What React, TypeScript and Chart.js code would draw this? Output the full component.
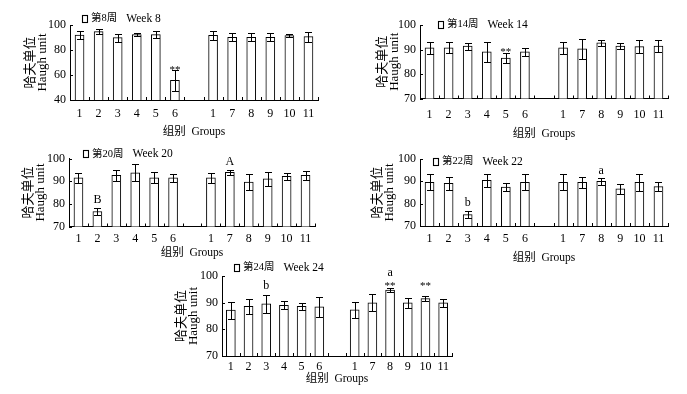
import React, { useEffect, useRef } from 'react';
import { Chart, registerables } from 'chart.js';

Chart.register(...registerables);

const SERIF = "'Liberation Serif', 'Noto Sans CJK SC', serif";

// ---------- data ----------
const groupLabels = ['1', '2', '3', '4', '5', '6', '', '1', '7', '8', '9', '10', '11'];

const week8Means = [92, 94.7, 89.9, 92.3, 92.3, 55.7, null, 91.8, 90.1, 90.1, 90.1, 91.5, 90.7];
const week8Errors = [3.5, 2.1, 3.2, 1.3, 2.9, 8.3, null, 3.8, 3.2, 3.2, 3.2, 1.3, 4];
const week8Ticks = [40, 60, 80, 100];
const week8Marks = [{ slot: 5, text: '**', value: 65.6 }];

const week14Means = [90.7, 90.7, 91.4, 89, 86.5, 89, null, 90.7, 90.3, 92.7, 91.4, 91.2, 91.4];
const week14Errors = [2.5, 2.2, 1.4, 3.9, 2.2, 1.7, null, 2.5, 4, 1.3, 1.3, 2.7, 2.5];
const week14Ticks = [70, 80, 90, 100];
const week14Marks = [{ slot: 4, text: '**', value: 89.8 }];

const week20Means = [91.5, 76.6, 92.6, 93.7, 91.5, 91.5, null, 91.5, 93.9, 89.6, 91, 92.1, 92.6];
const week20Errors = [2.2, 1.5, 2.5, 3.7, 2.5, 1.7, null, 2.2, 1.1, 3.6, 3, 1.6, 2.1];
const week20Ticks = [70, 80, 90, 100];
const week20Marks = [
  { slot: 1, text: 'B', value: 81.9 },
  { slot: 8, text: 'A', value: 98.4 },
];

const week22Means = [89.6, 89.1, 75.1, 90.4, 87.4, 89.6, null, 89.6, 89.6, 90, 86.6, 89.6, 87.6];
const week22Errors = [3.6, 2.9, 1.5, 3.1, 1.7, 3.6, null, 3.6, 2.5, 1.5, 2.1, 3.9, 2.1];
const week22Ticks = [70, 80, 90, 100];
const week22Marks = [
  { slot: 2, text: 'b', value: 80.2 },
  { slot: 9, text: 'a', value: 94.8 },
];

const week24Means = [87.2, 88.6, 89.6, 89, 88.6, 88.4, null, 87.3, 89.9, 94.7, 89.9, 91.5, 89.9];
const week24Errors = [3.2, 2.8, 3.3, 1.5, 1.3, 3.8, null, 3.1, 3.2, 0.8, 2, 0.9, 1.6];
const week24Ticks = [70, 80, 90, 100];
const week24Marks = [
  { slot: 2, text: 'b', value: 96.2 },
  { slot: 9, text: '**', value: 97.3 },
  { slot: 9, text: 'a', value: 101.2 },
  { slot: 11, text: '**', value: 97.3 },
];

const legendCN = ['第8周', '第14周', '第20周', '第22周', '第24周'];
const legendEN = ['Week 8', 'Week 14', 'Week 20', 'Week 22', 'Week 24'];
const xTitle = '组别  Groups';
const yTitle = ['哈夫单位', 'Haugh unit'];

// ---------- layout ----------
type Rect = { x: number; y: number; w: number; h: number };
type Area = { L: number; T: number; R: number; B: number };
type PanelCfg = {
  canvas: Rect;
  area: Area;
  yTitleX: number;
  tickLabelY: number;
  xTitleY: number;
  legend: { x: number; y: number };
  means: (number | null)[];
  errors: (number | null)[];
  ticks: number[];
  marks: { slot: number; text: string; value: number }[];
  cn: string;
  en: string;
};

const panels: PanelCfg[] = [
  {
    canvas: { x: 0, y: 0, w: 343, h: 145 },
    area: { L: 70, T: 25, R: 318, B: 100 },
    yTitleX: 31, tickLabelY: 114, xTitleY: 132,
    legend: { x: 82, y: 18 },
    means: week8Means, errors: week8Errors, ticks: week8Ticks, marks: week8Marks,
    cn: legendCN[0], en: legendEN[0],
  },
  {
    canvas: { x: 343, y: 0, w: 344, h: 145 },
    area: { L: 420, T: 25, R: 668, B: 98.5 },
    yTitleX: 383, tickLabelY: 115, xTitleY: 134,
    legend: { x: 438, y: 24 },
    means: week14Means, errors: week14Errors, ticks: week14Ticks, marks: week14Marks,
    cn: legendCN[1], en: legendEN[1],
  },
  {
    canvas: { x: 0, y: 145, w: 343, h: 120 },
    area: { L: 69, T: 158.5, R: 315, B: 226.5 },
    yTitleX: 29, tickLabelY: 239, xTitleY: 253,
    legend: { x: 83, y: 153.5 },
    means: week20Means, errors: week20Errors, ticks: week20Ticks, marks: week20Marks,
    cn: legendCN[2], en: legendEN[2],
  },
  {
    canvas: { x: 343, y: 145, w: 344, h: 125 },
    area: { L: 420, T: 159, R: 668, B: 226 },
    yTitleX: 378, tickLabelY: 239, xTitleY: 258,
    legend: { x: 433, y: 161 },
    means: week22Means, errors: week22Errors, ticks: week22Ticks, marks: week22Marks,
    cn: legendCN[3], en: legendEN[3],
  },
  {
    canvas: { x: 160, y: 255, w: 340, h: 139 },
    area: { L: 222, T: 276, R: 452, B: 356 },
    yTitleX: 182, tickLabelY: 367, xTitleY: 379,
    legend: { x: 234, y: 267 },
    means: week24Means, errors: week24Errors, ticks: week24Ticks, marks: week24Marks,
    cn: legendCN[4], en: legendEN[4],
  },
];

const Y_LH = 12; // 13px * 0.92
const XT_LH = 13.8; // 11.5px * 1.2
const TICK_LH = 14.4; // 12px * 1.2

function Panel({ cfg }: { cfg: PanelCfg }) {
  const ref = useRef<HTMLCanvasElement | null>(null);

  useEffect(() => {
    if (!ref.current) return;
    const { canvas: c, area: a } = cfg;
    const yLeft = cfg.yTitleX - Y_LH / 2;
    const yW = a.L - yLeft;
    const xH = cfg.xTitleY + XT_LH / 2 - a.B;
    const pad = {
      left: yLeft - c.x,
      top: a.T - c.y,
      right: c.x + c.w - a.R,
      bottom: c.y + c.h - (a.B + xH),
    };
    const tickPad = cfg.tickLabelY - a.B - TICK_LH / 2;

    const extras = {
      id: 'extras',
      afterDatasetsDraw(chart: any) {
        const ctx = chart.ctx as CanvasRenderingContext2D;
        const xs = chart.scales.x;
        const ys = chart.scales.y;
        const ca = chart.chartArea;
        const meta = chart.getDatasetMeta(0);
        ctx.save();
        ctx.strokeStyle = '#000';
        ctx.lineWidth = 1;
        // error bars
        ctx.beginPath();
        meta.data.forEach((el: any, i: number) => {
          const m = cfg.means[i];
          const e = cfg.errors[i];
          if (m == null || e == null) return;
          const px = Math.round(el.x) + 0.5;
          const top = Math.round(ys.getPixelForValue(m + e)) + 0.5;
          const bot = Math.round(ys.getPixelForValue(m - e)) + 0.5;
          ctx.moveTo(px, top);
          ctx.lineTo(px, bot);
          ctx.moveTo(px - 3.5, top);
          ctx.lineTo(px + 3.5, top);
          ctx.moveTo(px - 3.5, bot);
          ctx.lineTo(px + 3.5, bot);
        });
        ctx.stroke();
        // inward tick marks
        ctx.beginPath();
        for (let i = 0; i <= groupLabels.length; i++) {
          const bx = Math.round(xs.getPixelForValue(i - 0.5)) + 0.5;
          ctx.moveTo(bx, ca.bottom);
          ctx.lineTo(bx, ca.bottom - 3);
        }
        ys.ticks.forEach((t: any) => {
          const py = Math.round(ys.getPixelForValue(t.value)) + 0.5;
          ctx.moveTo(ca.left, py);
          ctx.lineTo(ca.left + 3, py);
        });
        ctx.stroke();
        // significance marks
        ctx.fillStyle = '#000';
        ctx.textAlign = 'center';
        ctx.textBaseline = 'middle';
        cfg.marks.forEach((mk) => {
          const px = xs.getPixelForValue(mk.slot);
          let py = ys.getPixelForValue(mk.value);
          if (mk.text === '**') {
            ctx.font = `11px ${SERIF}`;
            py += 2.5;
          } else {
            ctx.font = `12px ${SERIF}`;
          }
          ctx.fillText(mk.text, px, py);
        });
        // legend
        const lx = cfg.legend.x - c.x;
        const ly = cfg.legend.y - c.y;
        ctx.lineWidth = 1.1;
        ctx.strokeRect(Math.round(lx) + 0.5, Math.round(ly - 3.5) + 0.5, 5, 7);
        ctx.textAlign = 'left';
        ctx.font = `10.5px ${SERIF}`;
        const cnX = lx + 9;
        ctx.fillText(cfg.cn, cnX, ly + 0.5);
        const w = ctx.measureText(cfg.cn).width;
        ctx.font = `11.5px ${SERIF}`;
        ctx.fillText(cfg.en, cnX + w + 9, ly + 0.5);
        ctx.restore();
      },
    };

    const chart = new Chart(ref.current, {
      type: 'bar',
      data: {
        labels: groupLabels,
        datasets: [
          {
            data: cfg.means as any,
            backgroundColor: '#ffffff',
            borderColor: '#000000',
            borderWidth: 1,
            barThickness: 9,
          },
        ],
      },
      options: {
        responsive: false,
        animation: false,
        events: [],
        layout: { padding: pad },
        plugins: { legend: { display: false }, tooltip: { enabled: false } },
        scales: {
          x: {
            type: 'category',
            offset: true,
            grid: { display: false, drawTicks: false },
            border: { display: true, color: '#000', width: 1 },
            ticks: {
              color: '#000',
              font: { family: SERIF, size: 12 },
              padding: tickPad,
              maxRotation: 0,
              autoSkip: false,
            },
            title: {
              display: true,
              text: xTitle,
              color: '#000',
              font: { family: SERIF, size: 11.5 },
              padding: 0,
            },
            afterFit: (s: any) => {
              s.height = xH;
            },
          },
          y: {
            type: 'linear',
            min: cfg.ticks[0],
            max: cfg.ticks[cfg.ticks.length - 1],
            grid: { display: false, drawTicks: false },
            border: { display: true, color: '#000', width: 1 },
            ticks: {
              color: '#000',
              font: { family: SERIF, size: 12 },
              padding: 4,
            },
            afterBuildTicks: (s: any) => {
              s.ticks = cfg.ticks.map((v) => ({ value: v }));
            },
            title: {
              display: true,
              text: yTitle,
              color: '#000',
              font: { family: SERIF, size: 13, lineHeight: 0.92 },
              padding: 0,
            },
            afterFit: (s: any) => {
              s.width = yW;
            },
          },
        },
      },
      plugins: [extras],
    });
    return () => chart.destroy();
  }, [cfg]);

  return (
    <canvas
      ref={ref}
      width={cfg.canvas.w}
      height={cfg.canvas.h}
      style={{
        position: 'absolute',
        left: cfg.canvas.x,
        top: cfg.canvas.y,
        width: cfg.canvas.w,
        height: cfg.canvas.h,
      }}
    />
  );
}

export default function App() {
  return (
    <div
      style={{
        position: 'absolute',
        left: 0,
        top: 0,
        width: 687,
        height: 394,
        background: '#ffffff',
        overflow: 'hidden',
      }}
    >
      {panels.map((p, i) => (
        <Panel key={i} cfg={p} />
      ))}
    </div>
  );
}
